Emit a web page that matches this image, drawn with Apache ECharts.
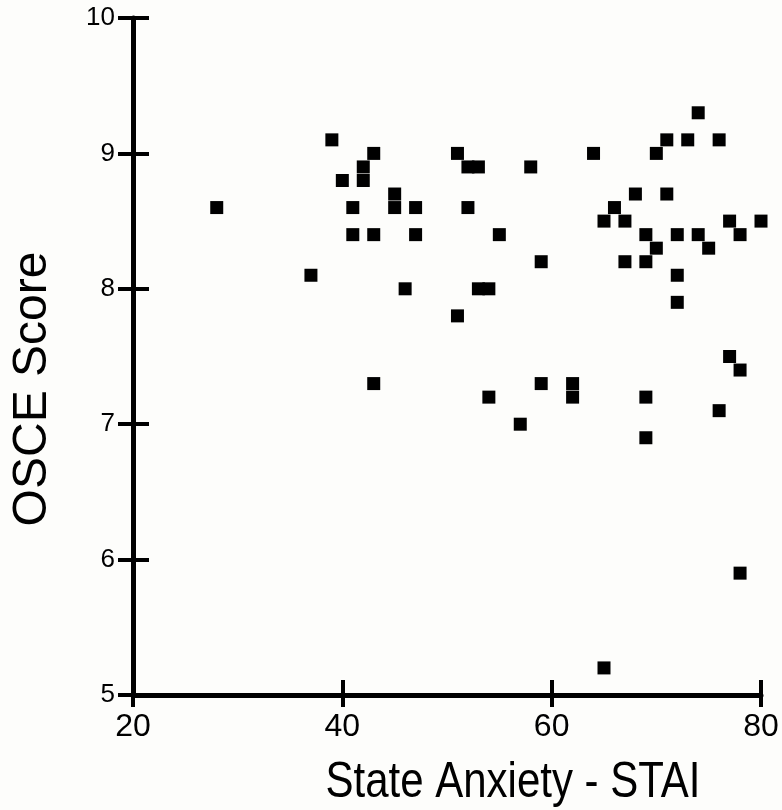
<!DOCTYPE html>
<html><head><meta charset="utf-8">
<script src="https://cdn.jsdelivr.net/npm/echarts@6/dist/echarts.min.js"></script>
<style>html,body{margin:0;padding:0;background:#fdfdfb;}#c{width:782px;height:810px;}</style>
</head><body><div id="c"></div>
<script>
// State Anxiety (STAI) values
var stai = [28,37,39,40,41,41,42,42,43,43,43,45,45,46,47,47,51,51,52,53,52,53,54,54,55,57,58,59,59,62,62,64,65,65,66,67,67,68,69,69,69,69,70,70,71,71,72,72,72,73,74,74,75,76,76,77,77,78,78,78,80];
// OSCE scores
var osce = [8.6,8.1,9.1,8.8,8.6,8.4,8.9,8.8,9.0,8.4,7.3,8.7,8.6,8.0,8.6,8.4,9.0,7.8,8.9,8.9,8.6,8.0,8.0,7.2,8.4,7.0,8.9,8.2,7.3,7.3,7.2,9.0,8.5,5.2,8.6,8.5,8.2,8.7,8.4,8.2,7.2,6.9,9.0,8.3,9.1,8.7,8.4,8.1,7.9,9.1,9.3,8.4,8.3,9.1,7.1,8.5,7.5,8.4,7.4,5.9,8.5];
var xTicks = [20,40,60,80];
var yTicks = [5,6,7,8,9,10];
var xTitle = 'State Anxiety - STAI';
var yTitle = 'OSCE Score';

var FF = '"Liberation Sans", Arial, Helvetica, sans-serif';
var pts = stai.map(function(x,i){return [x, osce[i]];});
var chart = echarts.init(document.getElementById('c'));
var axisBase = {type:'value', splitLine:{show:false}};
chart.setOption({
  backgroundColor:'#fdfdfb',
  animation:false,
  grid:{left:133,right:21,top:18,bottom:115,containLabel:false},
  xAxis:[
    Object.assign({}, axisBase, {min:xTicks[0], max:xTicks[xTicks.length-1], interval:20,
      axisLine:{lineStyle:{color:'#000',width:5}},
      axisTick:{inside:false,length:12,lineStyle:{color:'#000',width:4}},
      axisLabel:{color:'#000',fontSize:32,fontFamily:FF,margin:16}}),
    Object.assign({}, axisBase, {min:xTicks[0], max:xTicks[xTicks.length-1], interval:20, position:'bottom',
      axisLine:{show:false},
      axisTick:{inside:true,length:15,lineStyle:{color:'#000',width:4}},
      axisLabel:{show:false}})
  ],
  yAxis:[
    Object.assign({}, axisBase, {min:yTicks[0], max:yTicks[yTicks.length-1], interval:1,
      axisLine:{lineStyle:{color:'#000',width:5}},
      axisTick:{inside:false,length:15,lineStyle:{color:'#000',width:4}},
      axisLabel:{color:'#000',fontSize:26,fontFamily:FF,margin:18}}),
    Object.assign({}, axisBase, {min:yTicks[0], max:yTicks[yTicks.length-1], interval:1, position:'left',
      axisLine:{show:false},
      axisTick:{inside:true,length:16,lineStyle:{color:'#000',width:4}},
      axisLabel:{show:false}})
  ],
  graphic:[
    {type:'text', x:513, y:783, scaleX:0.84, style:{text:xTitle, font:'50px ' + FF, fill:'#000', textAlign:'center', textVerticalAlign:'middle'}},
    {type:'text', x:33, y:389, rotation:Math.PI/2, style:{text:yTitle, font:'48px ' + FF, fill:'#000', textAlign:'center', textVerticalAlign:'middle'}}
  ],
  series:[{type:'scatter', data:pts, symbol:'rect', symbolSize:13, itemStyle:{color:'#000',opacity:1}}]
});
</script></body></html>
